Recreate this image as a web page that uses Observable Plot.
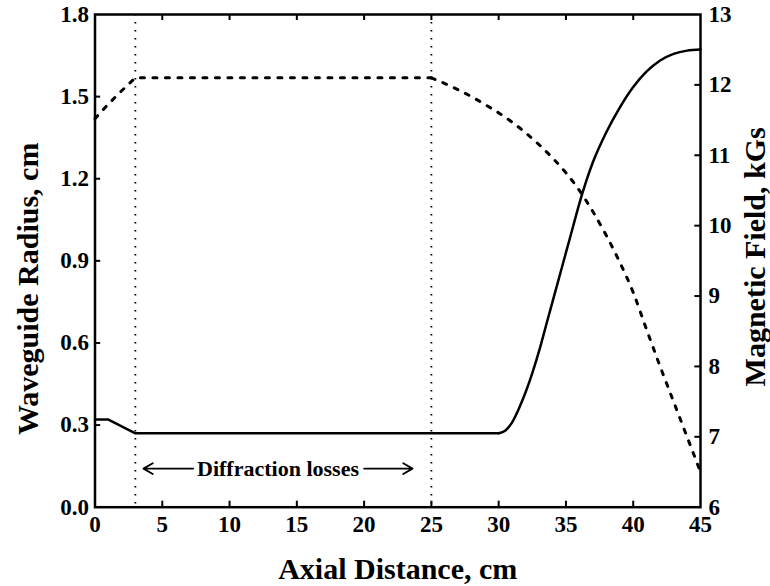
<!DOCTYPE html>
<html><head><meta charset="utf-8">
<script src="https://cdn.jsdelivr.net/npm/d3@7"></script>
<script src="https://cdn.jsdelivr.net/npm/@observablehq/plot@0.6"></script>
<style>body{margin:0;background:#fff} svg{display:block}</style>
</head><body><div id="chart"></div>
<script>
// Waveguide radius (cm) vs axial distance (cm) — solid, left axis
const radiusX = [0, 1, 3, 30, 30.5, 31, 31.5, 32, 32.5, 33, 33.5, 34, 34.5, 35, 35.5, 36, 36.5, 37, 38, 39, 40, 41, 42, 43, 44, 45];
const radiusY = [0.32, 0.32, 0.27, 0.27, 0.28, 0.31, 0.36, 0.42, 0.49, 0.57, 0.66, 0.75, 0.84, 0.93, 1.02, 1.11, 1.19, 1.26, 1.37, 1.46, 1.535, 1.592, 1.632, 1.656, 1.668, 1.672];
// Magnetic field (kGs) vs axial distance (cm) — dotted, right axis
const fieldX = [0, 0.9, 2, 3, 25, 27, 29, 31, 33, 35, 36, 37, 38, 39, 40, 41, 42, 43, 44, 45];
const fieldB = [11.52, 11.71, 11.92, 12.1, 12.1, 11.93, 11.72, 11.47, 11.15, 10.75, 10.5, 10.2, 9.86, 9.48, 9.05, 8.52, 8.0, 7.5, 7.0, 6.5];
// Boundaries of the diffraction-loss region
const markersX = [3, 25];
// Tick values
const xTicks = [0, 5, 10, 15, 20, 25, 30, 35, 40, 45];
const yTicks = [0, 0.3, 0.6, 0.9, 1.2, 1.5, 1.8];
const bTicks = [6, 7, 8, 9, 10, 11, 12, 13];
// Texts
const xTitle = "Axial Distance, cm";
const yTitle = "Waveguide Radius, cm";
const bTitle = "Magnetic Field, kGs";
const annotation = "Diffraction losses";

const yMax = 1.8, bMin = 6, bMax = 13;
const toY = b => (b - bMin) / (bMax - bMin) * yMax;
const fromY = y => Math.round(y / yMax * (bMax - bMin) + bMin);

const radius = radiusX.map((x, i) => ({x, y: radiusY[i]}));
const field = fieldX.map((x, i) => ({x, y: toY(fieldB[i])}));
const innerX = xTicks.slice(1, -1);
const innerY = yTicks.slice(1, -1);
const innerB = bTicks.slice(1, -1);

const font = {fontFamily: "Liberation Serif, Times New Roman, serif", fontWeight: "bold"};
const annY = 0.141;
const dotted = {strokeWidth: 3, strokeDasharray: "4,8.5"};

const chart = Plot.plot({
  width: 770,
  height: 586,
  marginLeft: 94.5,
  marginRight: 70,
  marginTop: 14,
  marginBottom: 79.3,
  style: {background: "#fff", color: "#000", fontFamily: font.fontFamily},
  x: {domain: [0, 45]},
  y: {domain: [0, yMax]},
  marks: [
    Plot.ruleX(markersX, {x: d => d, strokeWidth: 1.8, strokeDasharray: "1.6,6.4"}),
    Plot.line(field, {filter: d => d.x <= 25, x: "x", y: "y", ...dotted}),
    Plot.line(field, {filter: d => d.x >= 25, x: "x", y: "y", curve: "monotone-x", ...dotted}),
    Plot.line(radius, {filter: d => d.x <= 30, x: "x", y: "y", strokeWidth: 2.5}),
    Plot.line(radius, {filter: d => d.x >= 30, x: "x", y: "y", curve: "monotone-x", strokeWidth: 2.5}),
    // inward ticks
    Plot.ruleX(innerX, {x: d => d, y1: 0, y2: 0.022, strokeWidth: 2}),
    Plot.ruleX(innerX, {x: d => d, y1: yMax - 0.022, y2: yMax, strokeWidth: 2}),
    Plot.ruleY(innerY, {y: d => d, x1: 0, x2: 0.42, strokeWidth: 2}),
    Plot.ruleY(innerB, {y: d => toY(d), x1: 45 - 0.42, x2: 45, strokeWidth: 2}),
    Plot.frame({strokeWidth: 2.5}),
    // tick labels
    Plot.axisX(xTicks, {tickSize: 0, tickPadding: 8, fontSize: 23, ...font, label: null}),
    Plot.axisY(yTicks, {tickSize: 0, tickPadding: 6, fontSize: 23, ...font, label: null, tickFormat: d => d.toFixed(1)}),
    Plot.axisY(bTicks.map(toY), {anchor: "right", tickSize: 0, tickPadding: 8, fontSize: 23, ...font, label: null, tickFormat: fromY}),
    // titles
    Plot.text([xTitle], {frameAnchor: "bottom", dy: 62, textAnchor: "middle", lineAnchor: "middle", fontSize: 30, ...font}),
    Plot.text([yTitle], {frameAnchor: "left", dx: -67, dy: 28, rotate: -90, textAnchor: "middle", lineAnchor: "middle", fontSize: 30, ...font}),
    Plot.text([bTitle], {frameAnchor: "right", dx: 55, dy: -4, rotate: -90, textAnchor: "middle", lineAnchor: "middle", fontSize: 30, ...font}),
    // annotation
    Plot.text([annotation], {x: 13.6, y: annY, fontSize: 22, ...font}),
    Plot.arrow([{x1: 7.3, x2: 3.6}, {x1: 20.0, x2: 23.6}], {x1: "x1", x2: "x2", y1: annY, y2: annY, strokeWidth: 1.8, headLength: 9})
  ]
});
document.getElementById("chart").appendChild(chart);
</script>
</body></html>
